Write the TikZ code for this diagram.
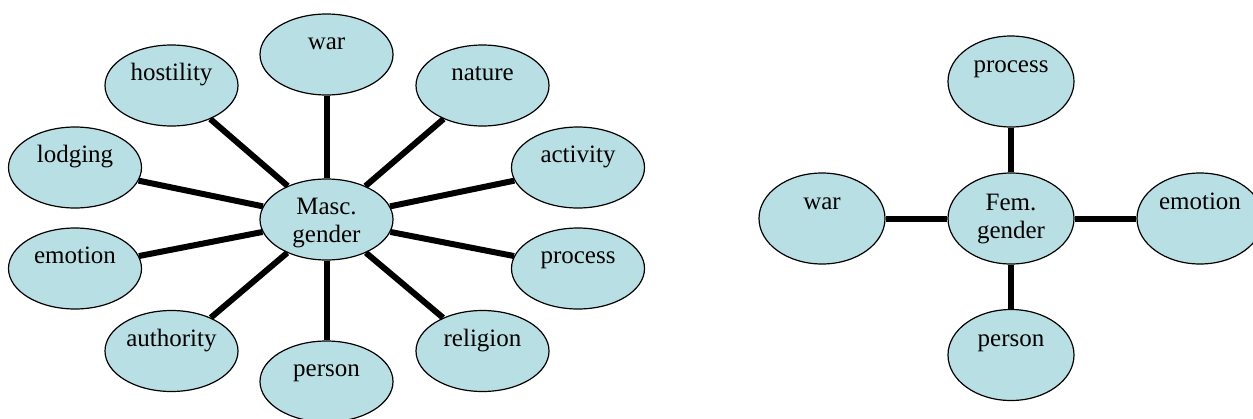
\documentclass[tikz,border=0pt]{standalone}
\usepackage{fontspec}
\setmainfont{Liberation Serif}
\usetikzlibrary{shapes.geometric}
\usepackage{xcolor}

\definecolor{bubblefill}{RGB}{184,223,227}
\newcommand{\twoline}[2]{\begin{tabular}[t]{@{}c@{}}#1\\#2\end{tabular}}

\tikzset{
  bubble/.style={ellipse, draw=black, line width=1.2pt, fill=bubblefill, inner sep=0pt,
    font=\fontsize{25}{28}\selectfont, text height=19.6pt},
  mascleaf/.style={bubble, minimum width=133pt, minimum height=81pt, text depth=29pt},
  femleaf/.style={bubble, minimum width=126pt, minimum height=91pt, text depth=37pt},
  spoke/.style={line width=6pt}
}

\begin{document}
\begin{tikzpicture}[x=1pt, y=-1pt]
      \useasboundingbox (0, 0) rectangle (1253, 418);

      \node[mascleaf, text depth=30pt] (masc) at (326.5, 219.5) {\twoline{Masc.}{gender}};
      \node[mascleaf] (mwar) at (326.5, 54.5) {war};
      \node[mascleaf] (mhostility) at (171.5, 85.5) {hostility};
      \node[mascleaf] (mnature) at (482.5, 85.5) {nature};
      \node[mascleaf] (mlodging) at (75, 167.5) {lodging};
      \node[mascleaf] (mactivity) at (578, 167.5) {activity};
      \node[mascleaf] (memotion) at (75, 268.5) {emotion};
      \node[mascleaf] (mprocess) at (578, 268.5) {process};
      \node[mascleaf] (mauthority) at (171.5, 351) {authority};
      \node[mascleaf] (mreligion) at (482.5, 351) {religion};
      \node[mascleaf] (mperson) at (326.5, 381.5) {person};

      \foreach \n in {mwar, mhostility, mnature, mlodging, mactivity, memotion, mprocess, mauthority, mreligion, mperson}
        \draw[spoke] (masc) -- (\n);

      \node[femleaf, text depth=36pt] (fem) at (1011, 218.5) {\twoline{Fem.}{gender}};
      \node[femleaf] (fprocess) at (1011, 81.5) {process};
      \node[femleaf] (fwar) at (822, 218.5) {war};
      \node[femleaf] (femotion) at (1200, 218.5) {emotion};
      \node[femleaf] (fperson) at (1011, 355) {person};

      \foreach \n in {fprocess, fwar, femotion, fperson}
        \draw[spoke] (fem) -- (\n);

    \end{tikzpicture}
\end{document}
